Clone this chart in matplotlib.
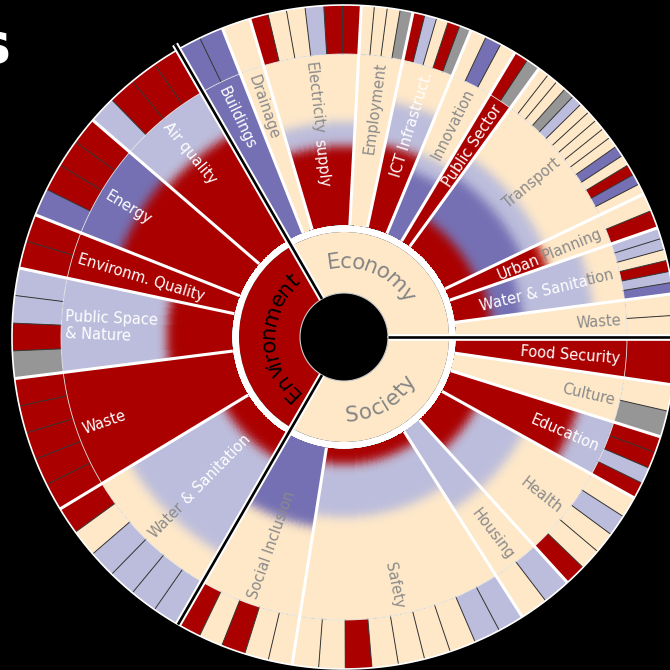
import numpy as np
import matplotlib
matplotlib.use('Agg')
import matplotlib.pyplot as plt
from matplotlib.colors import ListedColormap, to_rgb
from matplotlib.textpath import TextToPath
from matplotlib.font_manager import FontProperties

# ---------------- data ----------------
sector_names = ['Economy', 'Environment', 'Society']
sector_starts = [0, 120, 240]
sector_ends = [120, 240, 360]
sector_fill = ['B', 'R', 'B']
sector_label_color = ['#858585', '#000000', '#858585']
sector_label_angle = [66, 180, 300]

sub_names = ['Waste', 'Water & Sanitation', 'Urban Planning', 'Transport', 'Public Sector',
             'Innovation', 'ICT Infrastruct.', 'Employment', 'Electricity supply', 'Drainage',
             'Buildings', 'Air quality', 'Energy', 'Environm. Quality', 'Public Space\n& Nature',
             'Waste', 'Water & Sanitation', 'Social Inclusion', 'Safety', 'Housing', 'Health',
             'Education', 'Culture', 'Food Security']
sub_starts = [0, 7.5, 19.2, 25.5, 54, 59, 67.5, 78, 87, 106.5, 111.5,
              120, 139.2, 158.4, 168, 187.2, 211.2,
              240, 261, 302.5, 312.3, 331, 342.5, 351.7]
sub_ends = sub_starts[1:] + [360]
# outer ring: one letter per indicator, counter-clockwise order
sub_cells = ['BB', 'PLRBLL', 'RB', 'BPRBPBBBBBLGBBB', 'GR', 'BPB', 'GRBLR', 'GBBB',
             'RRLBBR', 'B', 'PP',
             'RRRL', 'RRRP', 'RR', 'LLRG', 'RRRRR', 'RBLLLL',
             'RBRBB', 'BBRBBBBLL', 'BL', 'RBBLB', 'RLRR', 'GB', 'R']
# middle ring: colour bands from inside to outside (code, end as share of ring depth)
sub_bands = [
    [('B', 1.0)],
    [('R', .21), ('P', .40), ('L', .81), ('B', 1.0)],
    [('R', .60), ('B', 1.0)],
    [('R', .19), ('P', .49), ('L', .63), ('B', 1.0)],
    [('R', 1.0)],
    [('P', .40), ('L', .51), ('B', 1.0)],
    [('R', .49), ('L', .75), ('B', 1.0)],
    [('B', 1.0)],
    [('R', .46), ('L', .60), ('B', 1.0)],
    [('B', 1.0)],
    [('P', 1.0)],
    [('R', .70), ('L', 1.0)],
    [('R', .74), ('P', 1.0)],
    [('R', 1.0)],
    [('R', .38), ('L', 1.0)],
    [('R', 1.0)],
    [('R', .16), ('L', .80), ('B', 1.0)],
    [('P', .47), ('B', 1.0)],
    [('R', .09), ('L', .40), ('B', 1.0)],
    [('L', .54), ('B', 1.0)],
    [('R', .22), ('L', .54), ('B', 1.0)],
    [('R', .78), ('L', 1.0)],
    [('B', 1.0)],
    [('R', 1.0)],
]
# label pieces in reading order with text colour code
sub_label_parts = [
    [('Waste', 'g')],
    [('Water & Sanita', 'w'), ('tion', 'g')],
    [('Urban ', 'w'), ('Planning', 'g')],
    [('Transport', 'g')],
    [('Public Sector', 'w')],
    [('Innovation', 'g')],
    [('ICT Infrastruct.', 'w')],
    [('Employment', 'g')],
    [('Electricity ', 'g'), ('supply', 'w')],
    [('Drainage', 'g')],
    [('Buildings', 'w')],
    [('Air quality', 'w')],
    [('Energy', 'w')],
    [('Environm. Quality', 'w')],
    [('Public Space\n& Nature', 'w')],
    [('Waste', 'w')],
    [('Water ', 'g'), ('& Sanitation', 'w')],
    [('Social Inclusion', 'g')],
    [('Safety', 'g')],
    [('Housing', 'g')],
    [('Health', 'g')],
    [('Education', 'w')],
    [('Culture', 'g')],
    [('Food Security', 'w')],
]

# ---------------- style ----------------
W, DPI = 670, 100
CX, CY = 344, 337
RMAX = 340
R_HOLE, R1_OUT, R2_IN, R2_OUT, R3_OUT = 44, 105, 112, 283, 332
PAL = {'R': '#AA0000', 'P': '#7570B3', 'L': '#BCBDDC', 'B': '#FEE8C8', 'G': '#969696'}
TXT = {'w': '#FFFFFF', 'g': '#8A8A8A'}
LABEL_SIZE = 10.5
SECTOR_SIZE = 15.5

fig = plt.figure(figsize=(W / DPI, W / DPI), dpi=DPI, facecolor='black')
ax = fig.add_axes([(CX - RMAX) / W, (W - CY - RMAX) / W, 2 * RMAX / W, 2 * RMAX / W],
                  projection='polar')
ax.set_axis_off()
rad = np.deg2rad
tp = TextToPath()


def wpx(s, prop):
    if not s:
        return 0.0
    w, h, d = tp.get_text_width_height_descent(s, prop, ismath=False)
    return w * DPI / 72.0


# ring 1: sectors
for a0, a1, fc in zip(sector_starts, sector_ends, sector_fill):
    ax.bar(rad((a0 + a1) / 2), R1_OUT - R_HOLE, width=rad(a1 - a0), bottom=R_HOLE,
           color=PAL[fc], linewidth=0, zorder=1)
ax.bar(0, R2_IN - R1_OUT, width=2 * np.pi, bottom=R1_OUT, color='white', linewidth=0, zorder=1)
ax.bar(0, R_HOLE, width=2 * np.pi, bottom=0, color='black', linewidth=0, zorder=1)

# ring 2: radial colour gradients
r_edges = np.arange(R2_IN, R2_OUT + 0.5, 1.0)
r_mid = (r_edges[:-1] + r_edges[1:]) / 2
frac = (r_mid - R2_IN) / (R2_OUT - R2_IN)
sig = 5.0
kk = np.arange(-16, 17)
gk = np.exp(-kk ** 2 / (2 * sig ** 2))
gk /= gk.sum()
for a0, a1, bands in zip(sub_starts, sub_ends, sub_bands):
    cols = np.zeros((len(r_mid), 3))
    for i, f in enumerate(frac):
        code = bands[-1][0]
        for c, e in bands:
            if f <= e:
                code = c
                break
        cols[i] = to_rgb(PAL[code])
    pad = np.pad(cols, ((16, 16), (0, 0)), mode='edge')
    sm = np.stack([np.convolve(pad[:, c], gk, mode='valid') for c in range(3)], axis=1)
    sm = np.clip(sm, 0, 1)
    nth = max(2, int((a1 - a0) / 0.5) + 1)
    th = rad(np.linspace(a0, a1, nth))
    T, Rr = np.meshgrid(th, r_edges)
    Cidx = np.repeat(np.arange(len(r_mid))[:, None], nth - 1, axis=1)
    ax.pcolormesh(T, Rr, Cidx, cmap=ListedColormap(sm), vmin=-0.5, vmax=len(r_mid) - 0.5,
                  shading='flat', zorder=1)

# ring 3: indicators
for a0, a1, cells in zip(sub_starts, sub_ends, sub_cells):
    n = len(cells)
    step = (a1 - a0) / n
    centers = [a0 + step * (k + 0.5) for k in range(n)]
    ax.bar(rad(np.array(centers)), R3_OUT - R2_OUT, width=rad(step), bottom=R2_OUT,
           color=[PAL[c] for c in cells], linewidth=0, zorder=1)
    for k in range(1, n):
        t = rad(a0 + step * k)
        ax.plot([t, t], [R2_OUT, R3_OUT], color='#3A3A3A', lw=0.7, zorder=2)

# circles
full = np.linspace(0, 2 * np.pi, 720)
ax.plot(full, np.full_like(full, R2_OUT), color='#E6E6E6', lw=0.6, zorder=3)
ax.plot(full, np.full_like(full, R3_OUT), color='white', lw=1.2, zorder=3)
ax.plot(full, np.full_like(full, R_HOLE), color='#CCCCCC', lw=0.8, zorder=3)

# white separators between sub-categories
for a in sub_starts:
    if a in sector_starts:
        continue
    ax.plot([rad(a)] * 2, [R2_IN, R3_OUT], color='white', lw=2.2,
            solid_capstyle='butt', zorder=4)

# black separators between sectors
for a in sector_starts:
    rend = 338 if a == 120 else R3_OUT
    ax.plot([rad(a)] * 2, [R_HOLE, rend], color='white', lw=4.8, solid_capstyle='butt', zorder=5)
    ax.plot([rad(a)] * 2, [R_HOLE, rend], color='black', lw=1.9, solid_capstyle='butt', zorder=6)

# sub-category labels
prop_l = FontProperties(family='DejaVu Sans', size=LABEL_SIZE)
R_LAB = 277
for a0, a1, parts in zip(sub_starts, sub_ends, sub_label_parts):
    mid = (a0 + a1) / 2
    outward = not (90 < mid < 270)
    rot = mid if outward else mid - 180
    full_txt = ''.join(p[0] for p in parts)
    if '\n' in full_txt:
        lines = full_txt.split('\n')
        total = max(wpx(l, prop_l) for l in lines)
        r0 = R_LAB - total if outward else R_LAB
        ax.text(rad(mid), r0 + (0 if outward else 2), full_txt, rotation=rot, rotation_mode='anchor',
                ha='left', va='center', color=TXT[parts[0][1]], fontproperties=prop_l,
                linespacing=1.15, zorder=7)
        continue
    total = wpx(full_txt, prop_l)
    pos = 0
    for txt, cc in parts:
        if pos == 0:
            off = 0.0
        else:
            nxt = full_txt[pos]
            off = wpx(full_txt[:pos + 1], prop_l) - wpx(nxt, prop_l)
        if outward:
            r = R_LAB - total + off
        else:
            r = R_LAB - off
        ax.text(rad(mid), r, txt.strip() if pos else txt.rstrip(), rotation=rot,
                rotation_mode='anchor', ha='left', va='center_baseline', color=TXT[cc],
                fontproperties=prop_l, zorder=7)
        pos += len(txt)


# curved sector labels
def arc_text(s, center_deg, r_mid, size, color, top=True):
    prop = FontProperties(family='DejaVu Sans', size=size)
    total = wpx(s, prop)
    px = size * DPI / 72.0
    for i, ch in enumerate(s):
        c = wpx(s[:i + 1], prop) - wpx(ch, prop) / 2
        d = np.rad2deg((total / 2 - c) / r_mid)
        if top:
            ang = center_deg + d
            rot = ang - 90
            rb = r_mid - 0.36 * px
        else:
            ang = center_deg - d
            rot = ang + 90
            rb = r_mid + 0.36 * px
        ax.text(rad(ang), rb, ch, rotation=rot, rotation_mode='anchor', ha='center',
                va='baseline', color=color, fontproperties=prop, zorder=7)


for name, ang, col in zip(sector_names, sector_label_angle, sector_label_color):
    arc_text(name, ang, 77, SECTOR_SIZE, col, top=(name != 'Society'))

ax.set_rlim(0, RMAX)

fig.text(10 / W, 1 - 47 / W, 's', color='white', fontsize=40, fontweight='bold',
         ha='right', va='center', family='DejaVu Sans')

fig.savefig('out.png', dpi=DPI, facecolor='black')
